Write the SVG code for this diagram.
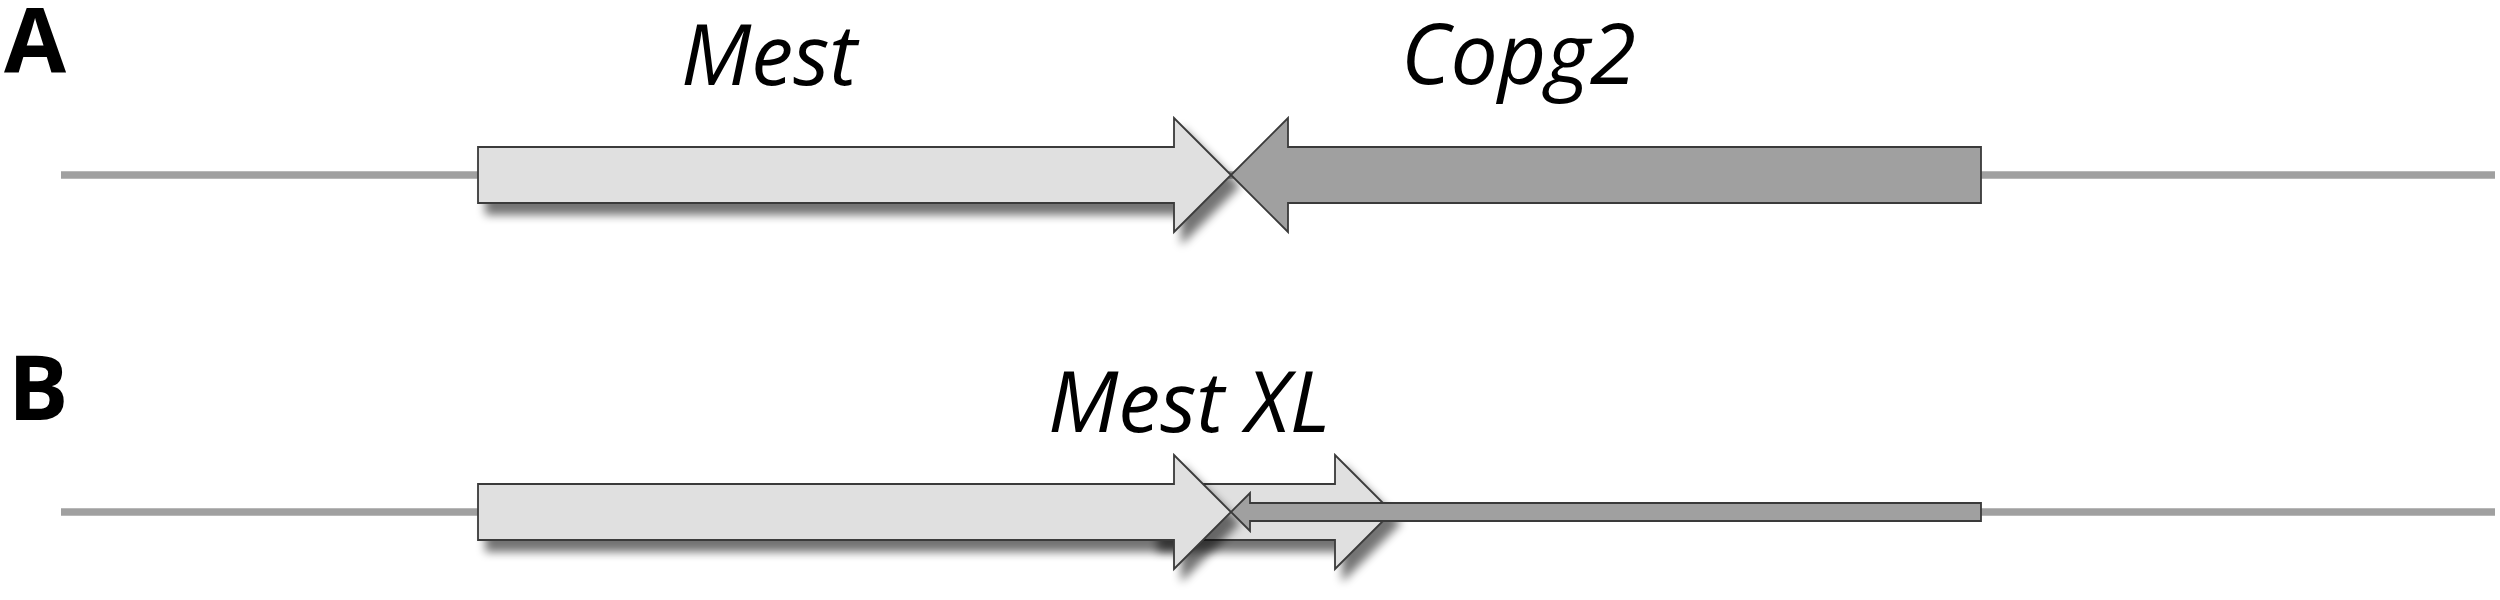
<svg xmlns="http://www.w3.org/2000/svg" width="2500" height="600" viewBox="0 0 2500 600">
<style>
.panel{font-family:"Open Sans","Liberation Sans",sans-serif;font-weight:bold;font-size:90px;fill:#000}
.gene{font-family:"Open Sans","Liberation Sans",sans-serif;font-style:italic;font-size:84px;fill:#000}
.chrom{stroke:#a0a0a0;stroke-width:7.5;fill:none}
.light{fill:#e0e0e0;stroke:#3a3a3a;stroke-width:1.8;stroke-linejoin:miter}
.dark{fill:#a0a0a0;stroke:#3a3a3a;stroke-width:1.8;stroke-linejoin:miter}
</style>
<defs>
<filter id="shadow" x="-5%" y="-30%" width="115%" height="180%">
<feGaussianBlur in="SourceAlpha" stdDeviation="5"/>
<feOffset dx="8" dy="11" result="b"/>
<feComponentTransfer><feFuncA type="linear" slope="0.55"/></feComponentTransfer>
<feMerge><feMergeNode/><feMergeNode in="SourceGraphic"/></feMerge>
</filter>
</defs>
<rect width="2500" height="600" fill="#fff"/>
<g id="connectors">
<line class="chrom" x1="61" y1="175" x2="2495" y2="175"/>
<line class="chrom" x1="61" y1="512" x2="2495" y2="512"/>
</g>
<g id="labelA"><text class="panel" x="4" y="72">A</text></g>
<g id="labelB"><text class="panel" x="8" y="420">B</text></g>
<g id="mestA">
<path class="light" filter="url(#shadow)" d="M478,147 H1174 V118 L1231,175 L1174,232 V203 H478 Z"/>
<text class="gene" x="681" y="85">Mest</text>
</g>
<g id="copg2A">
<path class="dark" d="M1981,147 H1288 V118 L1231,175 L1288,232 V203 H1981 Z"/>
<text class="gene" x="1401" y="84">Copg2</text>
</g>
<g id="mestXL">
<path class="light" filter="url(#shadow)" d="M1150,484 H1335 V455 L1392,512 L1335,569 V540 H1150 Z"/>
<text class="gene" x="1048" y="432">Mest XL</text>
</g>
<g id="mestB">
<path class="light" filter="url(#shadow)" d="M478,484 H1174 V455 L1231,512 L1174,569 V540 H478 Z"/>
</g>
<g id="copg2B">
<path class="dark" d="M1981,503 H1250 V493 L1231,512 L1250,531 V521 H1981 Z"/>
</g>
</svg>
